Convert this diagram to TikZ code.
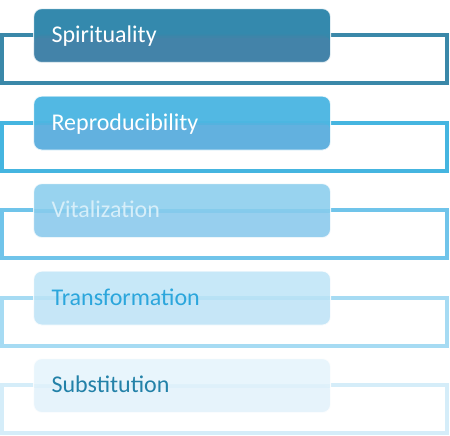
\documentclass[tikz,border=0pt]{standalone}
\usepackage{fontspec}
\setmainfont{Carlito}
\definecolor{fA}{HTML}{3A88A9}
\definecolor{tA}{HTML}{3489AD}
\definecolor{bA}{HTML}{4383A9}
\definecolor{xA}{HTML}{FFFFFF}
\definecolor{fB}{HTML}{45B5E0}
\definecolor{tB}{HTML}{52B8E3}
\definecolor{bB}{HTML}{62B1DF}
\definecolor{xB}{HTML}{FFFFFF}
\definecolor{fC}{HTML}{70C4EA}
\definecolor{tC}{HTML}{98D3EF}
\definecolor{bC}{HTML}{97CFEE}
\definecolor{xC}{HTML}{D6EEF9}
\definecolor{fD}{HTML}{A6DBF3}
\definecolor{tD}{HTML}{C7E8F8}
\definecolor{bD}{HTML}{C6E6F7}
\definecolor{xD}{HTML}{2BA6DC}
\definecolor{fE}{HTML}{D5EDF9}
\definecolor{tE}{HTML}{E8F5FC}
\definecolor{bE}{HTML}{E6F3FB}
\definecolor{xE}{HTML}{2281A8}
\tikzset{
  framebox/.style={line width=4pt},
  itembox/.style={rounded corners=8pt, minimum width=297pt, minimum height=54pt,
    inner xsep=18pt, inner ysep=0pt, text width=261pt, align=left,
    text height=16pt, text depth=2pt, font=\fontsize{24pt}{28pt}\selectfont,
    draw=white, draw opacity=0.8, line width=1.2pt, anchor=north west},
}
\begin{document}
\begin{tikzpicture}[x=1pt,y=1pt]
\useasboundingbox (0,0) rectangle (450,-436);
\foreach \L/\T [count=\i from 0] in {A/Spirituality,B/Reproducibility,C/Vitalization,D/Transformation,E/Substitution}{
  \pgfmathsetmacro{\dy}{-87.5*\i}
  \draw[framebox, draw=f\L] (2,\dy-35) rectangle (447,\dy-83);
  \node[itembox, fill=t\L, text=x\L,
        path picture={\fill[b\L] (path picture bounding box.west) rectangle (path picture bounding box.south east);
                      \draw[framebox, draw=f\L, opacity=0.45] (path picture bounding box.west) -- (path picture bounding box.east);}]
        (box\i) at (33,\dy-8) {\T};
}
\end{tikzpicture}
\end{document}
